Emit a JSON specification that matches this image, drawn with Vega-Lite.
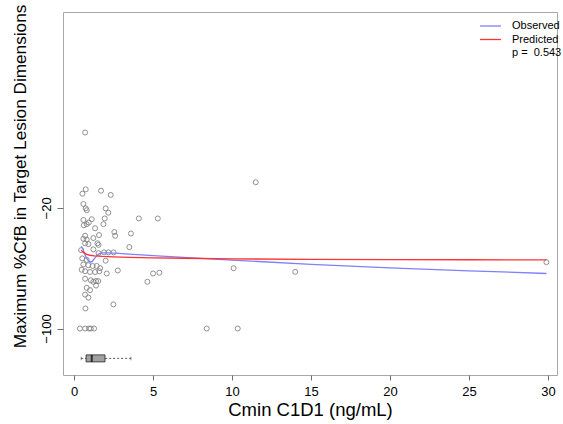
{
  "$schema": "https://vega.github.io/schema/vega-lite/v6.json",
  "width": 494,
  "height": 363,
  "autosize": "none",
  "padding": {"left": 63, "top": 12, "right": 6, "bottom": 49},
  "config": {"font": "Liberation Sans", "view": {"stroke": "#a8a8a8", "strokeWidth": 1}},
  "datasets": {
    "pts": [
      {"cmin": 0.7, "pct": 30}, {"cmin": 11.5, "pct": -3}, {"cmin": 0.74, "pct": -7.7}, {"cmin": 0.53, "pct": -10.6},
      {"cmin": 1.71, "pct": -8.6}, {"cmin": 2.32, "pct": -11.4}, {"cmin": 0.59, "pct": -17.4}, {"cmin": 0.74, "pct": -20.3},
      {"cmin": 0.8, "pct": -21.5}, {"cmin": 2.0, "pct": -20.3}, {"cmin": 2.17, "pct": -23.2}, {"cmin": 0.59, "pct": -28},
      {"cmin": 1.12, "pct": -27.5}, {"cmin": 0.93, "pct": -29.7}, {"cmin": 0.8, "pct": -30.8}, {"cmin": 0.62, "pct": -31.5},
      {"cmin": 1.94, "pct": -27}, {"cmin": 1.86, "pct": -30.8}, {"cmin": 4.1, "pct": -27}, {"cmin": 5.3, "pct": -27},
      {"cmin": 1.33, "pct": -33.5}, {"cmin": 2.55, "pct": -36}, {"cmin": 2.6, "pct": -38.5}, {"cmin": 3.6, "pct": -37},
      {"cmin": 0.7, "pct": -38.5}, {"cmin": 0.59, "pct": -40.5}, {"cmin": 0.8, "pct": -41}, {"cmin": 1.58, "pct": -38},
      {"cmin": 1.22, "pct": -40}, {"cmin": 1.48, "pct": -43.5}, {"cmin": 1.55, "pct": -44.5}, {"cmin": 0.7, "pct": -43.5},
      {"cmin": 0.91, "pct": -44}, {"cmin": 3.5, "pct": -46}, {"cmin": 1.22, "pct": -47.5}, {"cmin": 0.45, "pct": -48},
      {"cmin": 1.55, "pct": -50}, {"cmin": 1.9, "pct": -49.5}, {"cmin": 2.17, "pct": -49.5}, {"cmin": 2.5, "pct": -49.5},
      {"cmin": 0.52, "pct": -53.5}, {"cmin": 0.8, "pct": -54.5}, {"cmin": 2.0, "pct": -55}, {"cmin": 0.59, "pct": -57.5},
      {"cmin": 0.9, "pct": -58}, {"cmin": 1.18, "pct": -58.5}, {"cmin": 1.43, "pct": -58.5}, {"cmin": 1.65, "pct": -60},
      {"cmin": 0.48, "pct": -61}, {"cmin": 0.7, "pct": -62}, {"cmin": 1.01, "pct": -62.5}, {"cmin": 1.33, "pct": -62.5},
      {"cmin": 1.6, "pct": -62}, {"cmin": 2.07, "pct": -63.5}, {"cmin": 2.77, "pct": -61.5}, {"cmin": 5.0, "pct": -63.5},
      {"cmin": 5.4, "pct": -63}, {"cmin": 10.1, "pct": -60}, {"cmin": 14.0, "pct": -62.4}, {"cmin": 0.7, "pct": -67},
      {"cmin": 1.06, "pct": -68}, {"cmin": 1.22, "pct": -69}, {"cmin": 1.39, "pct": -68.5}, {"cmin": 1.53, "pct": -68.5},
      {"cmin": 1.39, "pct": -71.5}, {"cmin": 4.64, "pct": -69}, {"cmin": 0.8, "pct": -73}, {"cmin": 1.01, "pct": -74.5},
      {"cmin": 0.7, "pct": -77.5}, {"cmin": 0.91, "pct": -79.5}, {"cmin": 2.49, "pct": -84}, {"cmin": 0.72, "pct": -86.7},
      {"cmin": 0.37, "pct": -100}, {"cmin": 0.7, "pct": -100}, {"cmin": 0.95, "pct": -100}, {"cmin": 1.06, "pct": -100},
      {"cmin": 1.27, "pct": -100}, {"cmin": 8.4, "pct": -100}, {"cmin": 10.36, "pct": -100}, {"cmin": 29.9, "pct": -56}
    ],
    "curves": [
      {"series": "Observed", "cmin": 0.45, "pct": -45.5}, {"series": "Observed", "cmin": 0.55, "pct": -47},
      {"series": "Observed", "cmin": 0.65, "pct": -50}, {"series": "Observed", "cmin": 0.8, "pct": -53.5},
      {"series": "Observed", "cmin": 0.95, "pct": -55.5}, {"series": "Observed", "cmin": 1.05, "pct": -56},
      {"series": "Observed", "cmin": 1.15, "pct": -55.5}, {"series": "Observed", "cmin": 1.3, "pct": -53.5},
      {"series": "Observed", "cmin": 1.45, "pct": -51.5}, {"series": "Observed", "cmin": 1.6, "pct": -50.3},
      {"series": "Observed", "cmin": 1.8, "pct": -49.8}, {"series": "Observed", "cmin": 2.2, "pct": -49.8},
      {"series": "Observed", "cmin": 2.8, "pct": -50.1}, {"series": "Observed", "cmin": 3.5, "pct": -50.6},
      {"series": "Observed", "cmin": 5, "pct": -51.7}, {"series": "Observed", "cmin": 8.6, "pct": -53.8},
      {"series": "Observed", "cmin": 10, "pct": -54.6}, {"series": "Observed", "cmin": 15, "pct": -57.4},
      {"series": "Observed", "cmin": 20, "pct": -59.8}, {"series": "Observed", "cmin": 25, "pct": -61.7},
      {"series": "Observed", "cmin": 29.9, "pct": -63.5},
      {"series": "Predicted", "cmin": 0.45, "pct": -48}, {"series": "Predicted", "cmin": 0.6, "pct": -49.5},
      {"series": "Predicted", "cmin": 0.8, "pct": -50.8}, {"series": "Predicted", "cmin": 1.0, "pct": -51.4},
      {"series": "Predicted", "cmin": 1.3, "pct": -51.8}, {"series": "Predicted", "cmin": 1.8, "pct": -52.2},
      {"series": "Predicted", "cmin": 2.5, "pct": -52.5}, {"series": "Predicted", "cmin": 3.5, "pct": -52.8},
      {"series": "Predicted", "cmin": 5, "pct": -53.1}, {"series": "Predicted", "cmin": 7, "pct": -53.4},
      {"series": "Predicted", "cmin": 10, "pct": -53.8}, {"series": "Predicted", "cmin": 15, "pct": -54.1},
      {"series": "Predicted", "cmin": 20, "pct": -54.3}, {"series": "Predicted", "cmin": 25, "pct": -54.4},
      {"series": "Predicted", "cmin": 29.9, "pct": -54.5}
    ],
    "box": [{"lo": 0.45, "q1": 0.76, "med": 1.12, "q3": 1.96, "hi": 3.6}]
  },
  "encoding": {
    "x": {"type": "quantitative",
      "scale": {"domain": [-0.7, 30.57], "nice": false, "zero": false},
      "axis": {"values": [0, 5, 10, 15, 20, 25, 30], "title": "Cmin C1D1 (ng/mL)", "domain": false, "grid": false,
        "tickSize": 5, "tickColor": "#707070", "labelFontSize": 13, "labelColor": "#000", "labelPadding": 5,
        "labelFlush": false, "titleFontSize": 18.5, "titleFontWeight": "normal", "titleColor": "#000",
        "titleY": 40, "titleBaseline": "alphabetic"}},
    "y": {"type": "quantitative",
      "scale": {"domain": [-127.5, 106.6], "nice": false, "zero": false},
      "axis": {"values": [-20, -100], "title": "Maximum %CfB in Target Lesion Dimensions", "domain": false, "grid": false,
        "tickSize": 6, "tickColor": "#707070", "labelAngle": -90, "labelFontSize": 13, "labelColor": "#000", "labelPadding": 4,
        "titleFontSize": 17.2, "titleFontWeight": "normal", "titleColor": "#000", "titleAngle": -90,
        "titleX": -38, "titleY": 164, "titleAlign": "center", "titleBaseline": "alphabetic"}}
  },
  "layer": [
    {
      "data": {"name": "pts"},
      "mark": {"type": "point", "shape": "circle", "filled": false, "size": 25, "stroke": "#858585", "strokeWidth": 0.9, "opacity": 1},
      "encoding": {
        "x": {"field": "cmin", "type": "quantitative"},
        "y": {"field": "pct", "type": "quantitative"}
      }
    },
    {
      "data": {"name": "curves"},
      "mark": {"type": "line", "strokeWidth": 1.3},
      "encoding": {
        "x": {"field": "cmin", "type": "quantitative"},
        "y": {"field": "pct", "type": "quantitative"},
        "order": {"field": "cmin"},
        "color": {"field": "series", "type": "nominal",
          "scale": {"domain": ["Observed", "Predicted", "p =\u00a0 0.543"], "range": ["#7f7fff", "#ff3333", "rgba(0,0,0,0)"]},
          "legend": {"orient": "none", "legendX": 422, "legendY": 8.5, "title": null, "symbolType": "M-2.5,0H2.5",
            "symbolSize": 70, "symbolStrokeWidth": 1.3, "labelFontSize": 11, "labelColor": "#000", "labelOffset": 16,
            "rowPadding": 1.5, "padding": 0}}
      }
    },
    {
      "data": {"name": "box"},
      "layer": [
        {"mark": {"type": "rule", "strokeDash": [2, 2], "color": "#333", "strokeWidth": 0.8},
         "encoding": {"x": {"field": "lo", "type": "quantitative"}, "x2": {"field": "hi"},
           "y": {"datum": -119.8, "type": "quantitative"}}},
        {"mark": {"type": "bar", "size": 7, "fill": "#a0a0a0", "stroke": "#222", "strokeWidth": 0.8},
         "encoding": {"x": {"field": "q1", "type": "quantitative"}, "x2": {"field": "q3"},
           "y": {"datum": -119.8, "type": "quantitative"}}},
        {"mark": {"type": "tick", "orient": "vertical", "size": 7, "thickness": 2, "color": "#000"},
         "encoding": {"x": {"field": "med", "type": "quantitative"},
           "y": {"datum": -119.8, "type": "quantitative"}}},
        {"mark": {"type": "tick", "orient": "vertical", "size": 3.5, "thickness": 0.8, "color": "#333"},
         "encoding": {"x": {"field": "lo", "type": "quantitative"},
           "y": {"datum": -119.8, "type": "quantitative"}}},
        {"mark": {"type": "tick", "orient": "vertical", "size": 3.5, "thickness": 0.8, "color": "#333"},
         "encoding": {"x": {"field": "hi", "type": "quantitative"},
           "y": {"datum": -119.8, "type": "quantitative"}}}
      ]
    }
  ]
}
